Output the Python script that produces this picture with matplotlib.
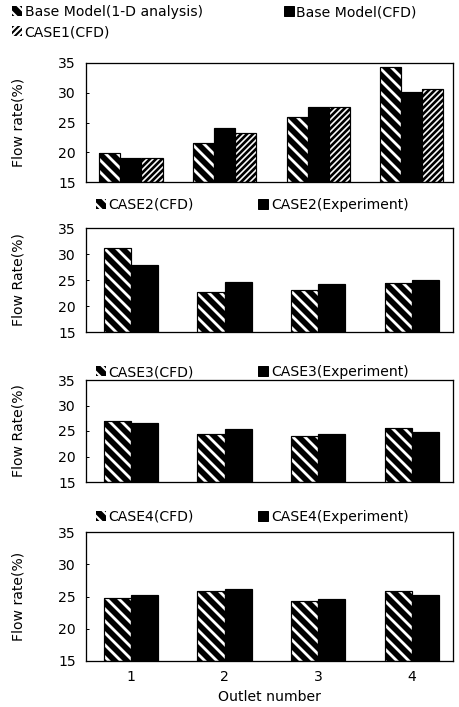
import matplotlib
matplotlib.use("Agg")
import matplotlib.pyplot as plt
import matplotlib.patches as mpatches
import numpy as np

# flow rate (%) per outlet
outlets = [1, 2, 3, 4]
base_1d = [19.9, 21.6, 25.9, 34.4]
base_cfd = [19.1, 24.1, 27.6, 30.1]
case1_cfd = [19.1, 23.3, 27.6, 30.7]
case2_cfd = [31.1, 22.6, 23.0, 24.5]
case2_exp = [27.8, 24.7, 24.2, 25.0]
case3_cfd = [27.0, 24.5, 24.0, 25.5]
case3_exp = [26.6, 25.4, 24.4, 24.9]
case4_cfd = [24.8, 25.9, 24.3, 25.9]
case4_exp = [25.2, 26.1, 24.6, 25.2]

plt.rcParams['font.family'] = ['DejaVu Sans']
plt.rcParams['font.size'] = 14
plt.rcParams['hatch.linewidth'] = 2.2

DPI = 72
fig = plt.figure(figsize=(459 / DPI, 707 / DPI), dpi=DPI)

# axes boxes in pixels (left, top, right, bottom)
boxes = [(86, 63, 453, 182), (86, 228, 453, 332), (86, 380, 453, 482), (86, 532, 453, 661)]
axes = []
for l, t, r, b in boxes:
    ax = fig.add_axes([l / 459, 1 - b / 707, (r - l) / 459, (b - t) / 707])
    axes.append(ax)

x = np.array(outlets)
H1 = '\\\\'      # wide white stripes
H2 = '////'      # dense stripes for CASE1


def hbar(ax, xs, vals, w, hatch, lw_hatch):
    with plt.rc_context({'hatch.linewidth': lw_hatch}):
        ax.bar(xs, np.array(vals) - 15, w, bottom=15, color='black',
               edgecolor='white', hatch=hatch, linewidth=0)
    ax.bar(xs, np.array(vals) - 15, w, bottom=15, fill=False,
           edgecolor='black', linewidth=1.2)


def sbar(ax, xs, vals, w):
    ax.bar(xs, np.array(vals) - 15, w, bottom=15, color='black',
           edgecolor='black', linewidth=1.2)


# panel 1
ax = axes[0]
w = 0.225
hbar(ax, x - w, base_1d, w, H1, 2.8)
sbar(ax, x, base_cfd, w)
hbar(ax, x + w, case1_cfd, w, H2, 1.6)
ax.set_ylabel('Flow rate(%)')

# panels 2-4
w2 = 0.29
pairs = [(case2_cfd, case2_exp), (case3_cfd, case3_exp), (case4_cfd, case4_exp)]
for ax, (cfd, exp) in zip(axes[1:], pairs):
    hbar(ax, x - w2 / 2, cfd, w2, H1, 2.8)
    sbar(ax, x + w2 / 2, exp, w2)

axes[1].set_ylabel('Flow Rate(%)')
axes[2].set_ylabel('Flow Rate(%)')
axes[3].set_ylabel('Flow rate(%)')

for i, ax in enumerate(axes):
    ax.set_xlim(0.52, 4.44)
    ax.set_ylim(15, 35)
    ax.set_yticks([15, 20, 25, 30, 35])
    ax.set_xticks(outlets)
    ax.tick_params(direction='in', length=3, width=1, pad=10)
    ax.tick_params(axis='x', length=0, pad=9)
    ax.yaxis.set_label_coords(-0.165, 0.5)
    for s in ax.spines.values():
        s.set_linewidth(1.3)
    if i < 3:
        ax.set_xticklabels([])

axes[3].set_xlabel('Outlet number', labelpad=6)


def hpatch(hatch):
    return mpatches.Patch(facecolor='black', edgecolor='white', hatch=hatch, linewidth=0)


solid = mpatches.Patch(facecolor='black', edgecolor='black')

leg_kw = dict(frameon=False, handlelength=0.7, handleheight=0.7, handletextpad=0.2,
              borderpad=0, borderaxespad=0)

fig.legend([hpatch('\\\\'), hpatch('////'), solid],
           ['Base Model(1-D analysis)', 'CASE1(CFD)', 'Base Model(CFD)'],
           ncol=2, loc='upper left', bbox_to_anchor=(12 / 459, 1 - 5 / 707),
           labelspacing=0.45, columnspacing=5.8, **leg_kw)

leg_rows = [205, 372, 517]
names = ['CASE2', 'CASE3', 'CASE4']
for y, nm in zip(leg_rows, names):
    fig.legend([hpatch('\\\\'), solid], [nm + '(CFD)', nm + '(Experiment)'],
               ncol=2, loc='center left', bbox_to_anchor=(96 / 459, 1 - y / 707),
               columnspacing=4.6, **leg_kw)

fig.savefig('out.png', dpi=DPI)
